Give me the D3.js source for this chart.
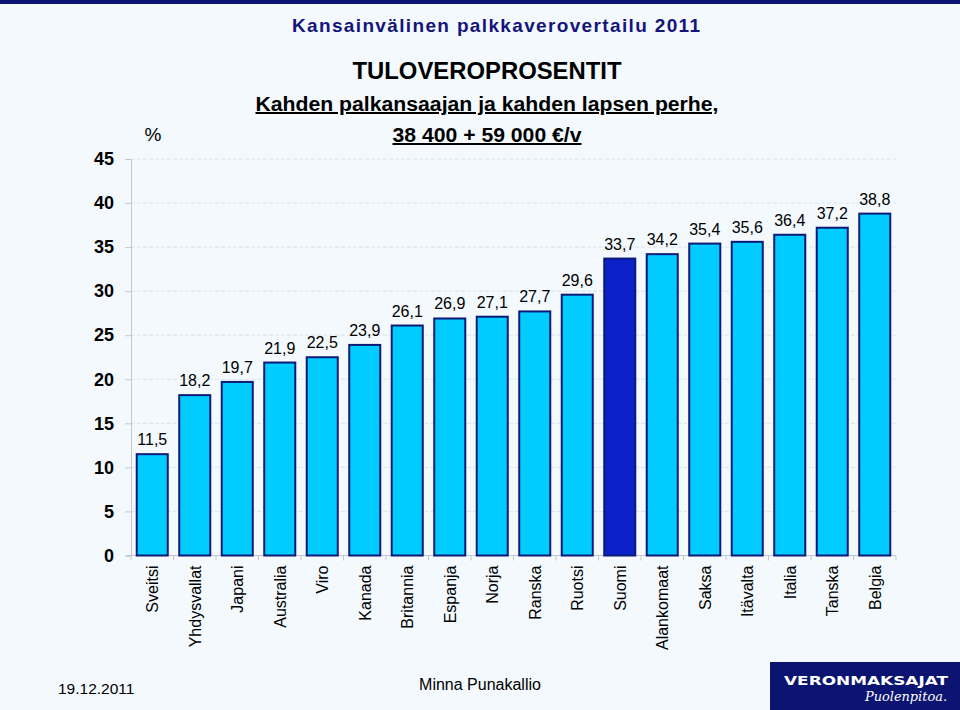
<!DOCTYPE html>
<html>
<head>
<meta charset="utf-8">
<script src="https://d3js.org/d3.v7.min.js"></script>
<style>
  html, body { margin: 0; padding: 0; background: #f3f9fd; }
  svg { display: block; }
</style>
</head>
<body>
<script>
const categories = ["Sveitsi","Yhdysvallat","Japani","Australia","Viro","Kanada","Britannia","Espanja","Norja","Ranska","Ruotsi","Suomi","Alankomaat","Saksa","Itävalta","Italia","Tanska","Belgia"];
const values = [11.5,18.2,19.7,21.9,22.5,23.9,26.1,26.9,27.1,27.7,29.6,33.7,34.2,35.4,35.6,36.4,37.2,38.8];
const highlight = "Suomi";
const yTicks = [0,5,10,15,20,25,30,35,40,45];
const title = "Kansainvälinen palkkaverovertailu 2011";
const heading = "TULOVEROPROSENTIT";
const sub1 = "Kahden palkansaajan ja kahden lapsen perhe,";
const sub2 = "38 400 + 59 000 €/v";
const unit = "%";
const dateText = "19.12.2011";
const authorText = "Minna Punakallio";
const logo1 = "VERONMAKSAJAT";
const logo2 = "Puolenpitoa.";

(function () {
const W = 960, H = 710;
const svg = d3.select("body").append("svg").attr("width", W).attr("height", H);
svg.append("rect").attr("width", W).attr("height", H).attr("fill", "#f3f9fd");
svg.append("rect").attr("width", W).attr("height", 4).attr("fill", "#0c1472");

const pLeft = 131, pRight = 896, pTop = 159, pBottom = 555.5;
const x = d3.scaleBand().domain(categories).range([pLeft, pRight]).paddingInner(0.27).paddingOuter(0.135);
const xb = d3.scaleBand().domain(categories).range([pLeft, pRight]);
const y = d3.scaleLinear().domain([0, 45]).range([pBottom, pTop]);

// gridlines
svg.append("g").selectAll("line").data(yTicks.filter(d => d > 0)).join("line")
  .attr("x1", pLeft).attr("x2", pRight).attr("y1", d => y(d)).attr("y2", d => y(d))
  .attr("stroke", "#dce3e9").attr("stroke-width", 1).attr("stroke-dasharray", "4,2");

// y axis
const ya = svg.append("g").attr("transform", `translate(${pLeft},0)`)
  .call(d3.axisLeft(y).tickValues(yTicks).tickSize(6).tickPadding(11));
ya.select(".domain").attr("stroke", "#c4c8cc");
ya.selectAll(".tick line").attr("stroke", "#c4c8cc");
ya.selectAll(".tick text").attr("font-family", "Liberation Sans, Arial, sans-serif")
  .attr("font-size", 18).attr("font-weight", "bold").attr("fill", "#000");

// x axis line and ticks at band boundaries
svg.append("line").attr("x1", pLeft - 4).attr("x2", pRight).attr("y1", pBottom).attr("y2", pBottom)
  .attr("stroke", "#c4c8cc");
svg.append("g").selectAll("line").data(categories.concat(["__end"])).join("line")
  .attr("x1", (d, i) => pLeft + i * xb.step()).attr("x2", (d, i) => pLeft + i * xb.step())
  .attr("y1", pBottom).attr("y2", pBottom + 5).attr("stroke", "#c4c8cc");

// bars
svg.append("g").selectAll("rect").data(categories).join("rect")
  .attr("x", d => x(d)).attr("width", x.bandwidth())
  .attr("y", (d, i) => y(values[i])).attr("height", (d, i) => y(0) - y(values[i]))
  .attr("fill", d => d === highlight ? "#0a22c8" : "#00ccff")
  .attr("stroke", "#0d1a78").attr("stroke-width", 2);

// value labels
svg.append("g").selectAll("text").data(categories).join("text")
  .attr("x", d => x(d) + x.bandwidth() / 2)
  .attr("y", (d, i) => y(values[i]) - 9)
  .attr("text-anchor", "middle")
  .attr("font-family", "Liberation Sans, Arial, sans-serif").attr("font-size", 16).attr("fill", "#000")
  .text((d, i) => String(values[i]).replace(".", ","));

// category labels
svg.append("g").selectAll("text").data(categories).join("text")
  .attr("transform", d => `translate(${xb(d) + xb.bandwidth() / 2 + 6},${pBottom + 10}) rotate(-90)`)
  .attr("text-anchor", "end")
  .attr("font-family", "Liberation Sans, Arial, sans-serif").attr("font-size", 16).attr("fill", "#000")
  .text(d => d);

// titles
svg.append("text").attr("x", 496).attr("y", 32).attr("text-anchor", "middle")
  .attr("font-family", "Liberation Sans, Arial, sans-serif").attr("font-size", 19).attr("font-weight", "bold")
  .attr("fill", "#14147a").attr("textLength", 408).attr("lengthAdjust", "spacing").text(title);
svg.append("text").attr("x", 487).attr("y", 79).attr("text-anchor", "middle")
  .attr("font-family", "Liberation Sans Narrow, Arial Narrow, Liberation Sans, sans-serif").attr("font-size", 23).attr("font-weight", "bold")
  .attr("fill", "#000").attr("textLength", 269).attr("lengthAdjust", "spacingAndGlyphs").text(heading);
svg.append("text").attr("x", 487).attr("y", 111).attr("text-anchor", "middle")
  .attr("font-family", "Liberation Sans Narrow, Arial Narrow, Liberation Sans, sans-serif").attr("font-size", 20).attr("font-weight", "bold")
  .attr("fill", "#000").attr("text-decoration", "underline")
  .attr("textLength", 463).attr("lengthAdjust", "spacingAndGlyphs").text(sub1);
svg.append("text").attr("x", 487).attr("y", 142).attr("text-anchor", "middle")
  .attr("font-family", "Liberation Sans Narrow, Arial Narrow, Liberation Sans, sans-serif").attr("font-size", 20).attr("font-weight", "bold")
  .attr("fill", "#000").attr("text-decoration", "underline")
  .attr("textLength", 189).attr("lengthAdjust", "spacingAndGlyphs").text(sub2);
svg.append("text").attr("x", 153).attr("y", 141).attr("text-anchor", "middle")
  .attr("font-family", "Liberation Sans, Arial, sans-serif").attr("font-size", 19)
  .attr("fill", "#000").text(unit);

// footer
svg.append("text").attr("x", 58).attr("y", 694)
  .attr("font-family", "Liberation Sans, Arial, sans-serif").attr("font-size", 15.5).attr("fill", "#000").text(dateText);
svg.append("text").attr("x", 480).attr("y", 690).attr("text-anchor", "middle")
  .attr("font-family", "Liberation Sans, Arial, sans-serif").attr("font-size", 16).attr("fill", "#000").text(authorText);

// logo
svg.append("rect").attr("x", 770).attr("y", 662).attr("width", 190).attr("height", 48).attr("fill", "#0c1472");
svg.append("text").attr("x", 784).attr("y", 685)
  .attr("font-family", "DejaVu Sans, sans-serif").attr("font-size", 13).attr("font-weight", "bold")
  .attr("fill", "#fff").attr("textLength", 164).attr("lengthAdjust", "spacingAndGlyphs").text(logo1);
svg.append("text").attr("x", 947).attr("y", 701).attr("text-anchor", "end")
  .attr("font-family", "DejaVu Serif, Liberation Serif, serif").attr("font-size", 13).attr("font-style", "italic")
  .attr("fill", "#fff").attr("textLength", 82).attr("lengthAdjust", "spacingAndGlyphs").text(logo2);
})();
</script>
</body>
</html>
